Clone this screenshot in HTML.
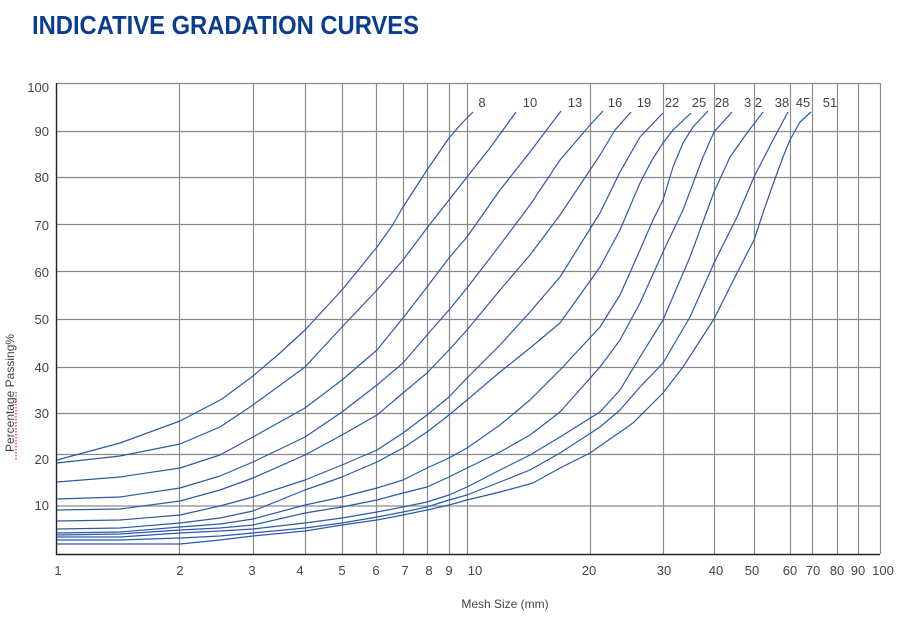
<!DOCTYPE html>
<html><head><meta charset="utf-8"><style>
html,body{margin:0;padding:0;background:#fff;}
svg{display:block;font-family:"Liberation Sans",sans-serif;}
</style></head><body>
<svg width="900" height="618" viewBox="0 0 900 618" xmlns="http://www.w3.org/2000/svg">
<text x="32" y="34" font-size="26" font-weight="bold" fill="#0a3d8f" textLength="387" lengthAdjust="spacingAndGlyphs">INDICATIVE GRADATION CURVES</text>
<g stroke="#8a8a8a" stroke-width="1.2" fill="none">
<path d="M57 83.5H880 M57 131.5H880 M57 177.5H880 M57 224.5H880 M57 271.5H880 M57 319.5H880 M57 367.5H880 M57 413.5H880 M57 454.5H880 M57 506H880"/>
<path d="M179.5 83V554 M253.5 83V554 M305.5 83V554 M342.5 83V554 M376.5 83V554 M403.5 83V554 M427.5 83V554 M449.5 83V554 M467.5 83V554 M590.5 83V554 M663.5 83V554 M714.5 83V554 M754.5 83V554 M790.5 83V554 M812.5 83V554 M837.5 83V554 M858.5 83V554 M880.5 83V554"/>
</g>
<path d="M56.5 83V554.5H880" stroke="#222" stroke-width="1.4" fill="none"/>
<g stroke="#2a5aa8" stroke-width="1.2" fill="none" stroke-linejoin="round">
<polyline points="57,460 120,443 180,421 222,399 253,376 280,353 305,330 342,290 377,247 392,226 403,207 427,170 449,138 462,123 473,112"/>
<polyline points="57,463 120,456 180,444 220,427 253,405 305,367 342,327 377,290 403,260 427,228 449,200 467,177 490,148 516,112"/>
<polyline points="57,482 120,477 180,468 220,455 253,437 305,408 342,380 377,350 403,318 427,287 449,258 467,237 500,190 530,152 561,111"/>
<polyline points="57,499 120,497 180,488 220,476 253,462 305,437 342,412 377,385 403,363 427,335 449,310 467,288 500,245 530,205 560,160 590,125 603,111"/>
<polyline points="57,510 120,509 180,501 220,490 253,478 305,455 342,435 377,415 403,393 427,373 449,350 467,330 500,290 530,255 560,215 580,185 600,155 615,130 631,112"/>
<polyline points="57,521 120,520 180,515 220,506 253,497 305,480 342,465 377,450 403,433 427,415 449,397 467,378 500,345 530,312 560,277 600,213 620,172 640,137 663,113"/>
<polyline points="57,529 120,528 180,523 220,518 253,511 305,490 342,477 377,462 403,448 427,432 449,415 467,400 500,372 530,348 560,323 600,267 620,230 640,183 652,160 663,143 673,130 691,113"/>
<polyline points="57,533 120,532 180,527 220,524 253,519 305,505 342,497 377,488 403,480 427,468 449,458 467,448 500,425 530,400 560,370 600,327 620,295 640,250 653,220 663,200 673,167 683,143 693,127 708,111"/>
<polyline points="57,535 120,534 180,530 220,528 253,525 305,513 342,507 377,500 403,493 427,487 449,477 467,468 500,452 530,435 560,412 600,367 620,340 640,303 663,252 683,210 703,157 714,132 732,112"/>
<polyline points="57,537 120,537 180,533 220,531 253,529 305,523 342,518 377,512 403,507 427,502 449,495 467,487 500,470 530,455 560,437 600,412 620,390 640,357 663,320 690,257 714,192 730,157 747,133 763,112"/>
<polyline points="57,540 120,540 180,538 220,536 253,533 305,528 342,523 377,517 403,512 427,507 449,500 467,495 500,482 530,470 560,453 600,427 620,410 640,387 663,363 690,317 714,263 737,217 754,177 773,140 788,112"/>
<polyline points="57,544 120,544 180,544 220,540 253,536 305,531 342,525 377,520 403,515 427,510 449,505 467,500 500,492 533,483 560,468 590,453 633,423 663,393 683,367 714,319 737,273 754,240 763,213 772,187 783,157 790,140 800,122 811,112"/>
</g>
<g font-size="13" fill="#444" text-anchor="middle">
<text x="482" y="107">8</text><text x="530" y="107">10</text><text x="575" y="107">13</text><text x="615" y="107">16</text><text x="644" y="107">19</text><text x="672" y="107">22</text><text x="699" y="107">25</text><text x="722" y="107">28</text><text x="753" y="107">3 2</text><text x="782" y="107">38</text><text x="803" y="107">45</text><text x="830" y="107">51</text>
</g>
<g font-size="13" fill="#444" text-anchor="end">
<text x="49" y="92">100</text><text x="49" y="136">90</text><text x="49" y="182">80</text><text x="49" y="230">70</text><text x="49" y="277">60</text><text x="49" y="324">50</text><text x="49" y="372">40</text><text x="49" y="418">30</text><text x="49" y="464">20</text><text x="49" y="510">10</text>
</g>
<g font-size="13" fill="#444" text-anchor="middle">
<text x="58" y="575">1</text><text x="180" y="575">2</text><text x="252" y="575">3</text><text x="300" y="575">4</text><text x="342" y="575">5</text><text x="376" y="575">6</text><text x="405" y="575">7</text><text x="429" y="575">8</text><text x="449" y="575">9</text><text x="475" y="575">10</text><text x="589" y="575">20</text><text x="664" y="575">30</text><text x="716" y="575">40</text><text x="752" y="575">50</text><text x="790" y="575">60</text><text x="813" y="575">70</text><text x="837" y="575">80</text><text x="858" y="575">90</text><text x="883" y="575">100</text>
</g>
<text x="505" y="608" font-size="12" fill="#444" text-anchor="middle">Mesh Size  (mm)</text>
<text transform="translate(14,393) rotate(-90)" font-size="12" fill="#444" text-anchor="middle">Percentage Passing%</text>
<path d="M16 392V461" stroke="#e02020" stroke-width="1.2" stroke-dasharray="1.5 1.5"/>
</svg>
</body></html>
